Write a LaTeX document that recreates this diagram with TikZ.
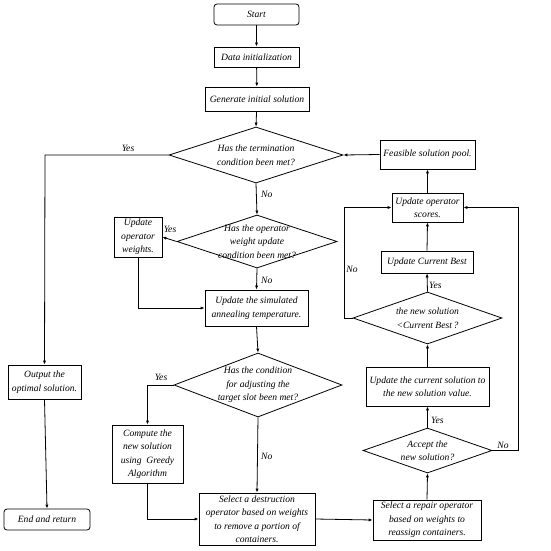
\documentclass[tikz,border=0pt]{standalone}
\usepackage{fontspec}
\setmainfont{Liberation Serif}
\usetikzlibrary{shapes.geometric,arrows.meta}
\begin{document}
\begin{tikzpicture}[x=1pt,y=-1pt,
  txt/.style={font=\fontsize{9.6}{13.5}\selectfont\itshape, align=center, inner sep=0pt},
  every node/.style={txt},
  box/.style={draw, line width=0.8pt},
  term/.style={draw, line width=0.8pt, rounded corners=3pt},
  dia/.style={draw, diamond, line width=0.8pt, inner sep=0pt},
  lbl/.style={font=\fontsize{9.6}{11}\selectfont\itshape},
  conn/.style={line width=0.8pt, -{Latex[length=4pt,width=3.2pt]}},
  line/.style={line width=0.8pt}
]
\useasboundingbox (0,0) rectangle (550,551);
\fill[white] (0,0) rectangle (550,551);

% main column
\node[term, minimum width=85pt, minimum height=21pt] (start) at (256.5,14.5) {Start};
\node[box, minimum width=85pt, minimum height=20pt] (data) at (256.5,57) {Data initialization};
\node[box, minimum width=104pt, minimum height=24pt] (gen) at (257,99) {Generate initial solution};
\node[dia, minimum width=174pt, minimum height=56pt, label={[txt]center:Has the termination\\condition been met?}] (d1) at (256,155) {};
\node[dia, minimum width=160pt, minimum height=53pt, label={[txt]center:Has the operator\\weight update\\condition been met?}] (d2) at (257,241.5) {};
\node[box, minimum width=48pt, minimum height=40pt] (weights) at (138,237) {Update\\operator\\weights.};
\node[box, minimum width=103pt, minimum height=36pt] (sa) at (256.5,308) {Update the simulated\\annealing temperature.};
\node[dia, minimum width=168pt, minimum height=64pt, label={[txt]center:Has the condition\\for adjusting the\\target slot been met?}] (d4) at (258,385) {};
\node[box, minimum width=71pt, minimum height=58pt] (greedy) at (147.5,454) {Compute the\\new solution\\using~~Greedy\\Algorithm};
\node[box, minimum width=116pt, minimum height=52pt] (destr) at (257,519) {Select a destruction\\operator based on weights\\to remove a portion of\\containers.};

% left column
\node[box, minimum width=73pt, minimum height=34pt] (output) at (44.5,382) {Output the\\optimal solution.};
\node[term, minimum width=86pt, minimum height=21pt] (end) at (47,519.5) {End and return};

% right column
\node[box, minimum width=95pt, minimum height=29pt] (pool) at (427.5,154.5) {Feasible solution pool.};
\node[box, minimum width=71pt, minimum height=29pt] (scores) at (427.5,207.5) {Update operator\\scores.};
\node[box, minimum width=92pt, minimum height=22pt] (best) at (427,262) {Update Current Best};
\node[dia, minimum width=149pt, minimum height=52pt, label={[txt]center:the new solution\\<Current Best\,?}] (d3) at (427.5,318) {};
\node[box, minimum width=123pt, minimum height=39pt] (updsol) at (427.5,386.5) {Update the current solution to\\the new solution value.};
\node[dia, minimum width=129pt, minimum height=45pt, label={[txt]center:Accept the\\new solution?}] (accept) at (427.5,450.5) {};
\node[box, minimum width=108pt, minimum height=40pt] (repair) at (427,520) {Select a repair operator\\based on weights to\\reassign containers.};

\coordinate (c1) at (45,155);
\coordinate (c2) at (344,318);
\coordinate (c3) at (518,450.5);

% connectors
\draw[conn] (start) -- (data);
\draw[conn] (data) -- (gen);
\draw[conn] (gen) -- (d1.north);
\draw[conn] (d1.west) -- (c1) -- (output.north);
\node[lbl] (yes1) at (128,148) {Yes};
\draw[conn] (d1.south) -- (d2.north);
\node[lbl, anchor=west] (no1) at (261,194) {No};
\draw[conn] (pool.west) -- (d1.east);
\draw[conn] (scores.north) -- (pool.south);
\draw[conn] (d2.west) -- (weights.east);
\node[lbl] (yes2) at (170,229) {Yes};
\draw[conn] (d2.south) -- (sa.north);
\node[lbl, anchor=west] (no2) at (261,280) {No};
\draw[conn] (weights.south) |- (sa.west);
\draw[conn] (sa.south) -- (d4.north);
\draw[conn] (d4.west) -| (greedy.north);
\node[lbl] (yes3) at (161,377) {Yes};
\draw[conn] (d4.south) -- (destr.north);
\node[lbl, anchor=west] (no3) at (261,456) {No};
\draw[conn] (greedy.south) |- (destr.west);
\draw[conn] (destr.east) -- (repair.west);
\draw[conn] (output.south) -- (end.north);
\draw[conn] (repair.north) -- (accept.south);
\draw[conn] (accept.north) -- (updsol.south);
\node[lbl, anchor=west] (yes4) at (431,420) {Yes};
\draw[conn] (accept.east) -- (c3) |- (scores.east);
\node[lbl] (no4) at (503,445) {No};
\draw[conn] (updsol.north) -- (d3.south);
\draw[conn] (d3.north) -- (best.south);
\node[lbl, anchor=west] (yes5) at (429,285) {Yes};
\draw[conn] (best.north) -- (scores.south);
\draw[conn] (d3.west) -- (c2) |- (scores.west);
\node[lbl] (no5) at (352,269) {No};
\end{tikzpicture}
\end{document}
